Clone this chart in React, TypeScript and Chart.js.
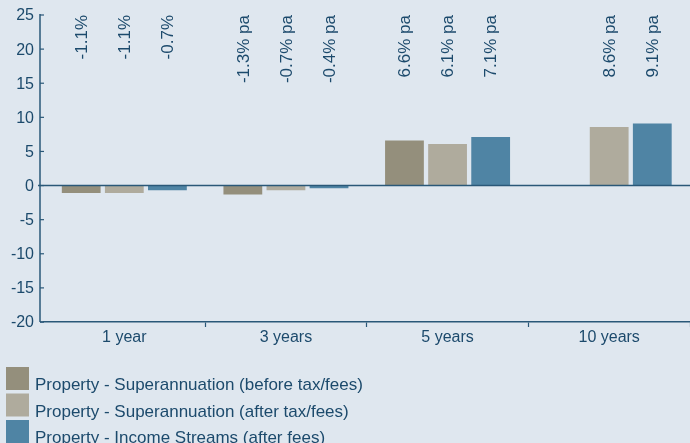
import React, { useEffect, useRef } from "react";
import { Chart, registerables } from "chart.js";

Chart.register(...registerables);

const categories = ["1 year", "3 years", "5 years", "10 years"];
const superBefore: (number | null)[] = [-1.1, -1.3, 6.6, null];
const superAfter: (number | null)[] = [-1.1, -0.7, 6.1, 8.6];
const incomeStreams: (number | null)[] = [-0.7, -0.4, 7.1, 9.1];
const labelSuffix = ["%", "% pa", "% pa", "% pa"];
const seriesNames = [
  "Property - Superannuation (before tax/fees)",
  "Property - Superannuation (after tax/fees)",
  "Property - Income Streams (after fees)",
];
const seriesColors = ["#948f7c", "#afab9d", "#4f84a4"];
const yMin = -20;
const yMax = 25;
const yStep = 5;

const BG = "#dfe7ef";
const TEXT = "#1c4a6c";
const AXIS = "#2a5878";
const FONT = "'Liberation Sans', Arial, Helvetica, sans-serif";
const AXIS_X = 40;

export default function App() {
  const ref = useRef<HTMLCanvasElement | null>(null);

  useEffect(() => {
    document.body.style.margin = "0";
    document.body.style.background = BG;
    const canvas = ref.current;
    if (!canvas) return;

    const bgPlugin = {
      id: "bg",
      beforeDraw(chart: any) {
        const { ctx, width, height } = chart;
        ctx.save();
        ctx.fillStyle = BG;
        ctx.fillRect(0, 0, width, height);
        ctx.restore();
      },
    };

    const extrasPlugin = {
      id: "extras",
      afterDatasetsDraw(chart: any) {
        const { ctx, chartArea } = chart;
        const yScale = chart.scales.y;
        const y0 = yScale.getPixelForValue(0);
        ctx.save();
        ctx.strokeStyle = AXIS;
        ctx.lineWidth = 1.5;
        ctx.beginPath();
        ctx.moveTo(AXIS_X, chartArea.top - 1);
        ctx.lineTo(AXIS_X, chartArea.bottom);
        ctx.stroke();
        ctx.beginPath();
        ctx.moveTo(AXIS_X, chartArea.bottom);
        ctx.lineTo(chartArea.left, chartArea.bottom);
        ctx.stroke();
        ctx.beginPath();
        ctx.moveTo(AXIS_X - 2, y0);
        ctx.lineTo(chartArea.right, y0);
        ctx.stroke();
        ctx.lineWidth = 1.2;
        ctx.fillStyle = TEXT;
        ctx.font = `16px ${FONT}`;
        ctx.textAlign = "right";
        ctx.textBaseline = "middle";
        yScale.ticks.forEach((t: any) => {
          const yy = yScale.getPixelForValue(t.value);
          ctx.beginPath();
          ctx.moveTo(AXIS_X, yy);
          ctx.lineTo(AXIS_X + 4, yy);
          ctx.stroke();
          ctx.fillText(String(t.value), AXIS_X - 6, yy + 1);
        });
        ctx.font = `17px ${FONT}`;
        chart.data.datasets.forEach((ds: any, i: number) => {
          const meta = chart.getDatasetMeta(i);
          meta.data.forEach((el: any, j: number) => {
            const v = ds.data[j];
            if (v === null || v === undefined) return;
            const text = `${v.toFixed(1)}${labelSuffix[j]}`;
            ctx.save();
            ctx.translate(el.x + 1, chartArea.top);
            ctx.rotate(-Math.PI / 2);
            ctx.fillText(text, 0, 0);
            ctx.restore();
          });
        });
        ctx.restore();
      },
      afterDraw(chart: any) {
        const { ctx } = chart;
        ctx.save();
        ctx.font = `17px ${FONT}`;
        ctx.textAlign = "left";
        ctx.textBaseline = "alphabetic";
        seriesNames.forEach((name, i) => {
          const top = 367 + i * 26.5;
          ctx.fillStyle = seriesColors[i];
          ctx.fillRect(6, top, 23, 23);
          ctx.fillStyle = TEXT;
          ctx.fillText(name, 35, top + 23);
        });
        ctx.restore();
      },
    };

    const chart = new Chart(canvas, {
      type: "bar",
      data: {
        labels: categories,
        datasets: [superBefore, superAfter, incomeStreams].map((d, i) => ({
          label: seriesNames[i],
          data: d,
          backgroundColor: seriesColors[i],
          borderWidth: 0,
          categoryPercentage: 0.8,
          barPercentage: 0.9,
        })),
      },
      options: {
        animation: false,
        responsive: false,
        maintainAspectRatio: false,
        layout: { padding: { top: 15, right: 0, bottom: 91, left: 0 } },
        plugins: {
          legend: { display: false },
          tooltip: { enabled: false },
        },
        scales: {
          x: {
            grid: {
              offset: true,
              drawOnChartArea: false,
              drawTicks: true,
              tickLength: 5,
              tickColor: (c: any) => (c.index === 0 ? "rgba(0,0,0,0)" : AXIS),
              tickWidth: 1.2,
            },
            border: { display: true, color: AXIS, width: 1.5 },
            ticks: {
              color: TEXT,
              font: { family: FONT, size: 16 },
              padding: 1,
              maxRotation: 0,
            },
            afterFit(scale: any) {
              scale.height = 30;
            },
          },
          y: {
            min: yMin,
            max: yMax,
            grid: { display: false, drawTicks: false },
            border: { display: false },
            ticks: { stepSize: yStep, display: false },
            afterFit(scale: any) {
              scale.width = 43.5;
            },
          },
        },
      },
      plugins: [bgPlugin, extrasPlugin],
    });

    return () => chart.destroy();
  }, []);

  return (
    <div style={{ width: 690, height: 443, background: BG }}>
      <canvas ref={ref} width={690} height={443} style={{ display: "block" }} />
    </div>
  );
}
